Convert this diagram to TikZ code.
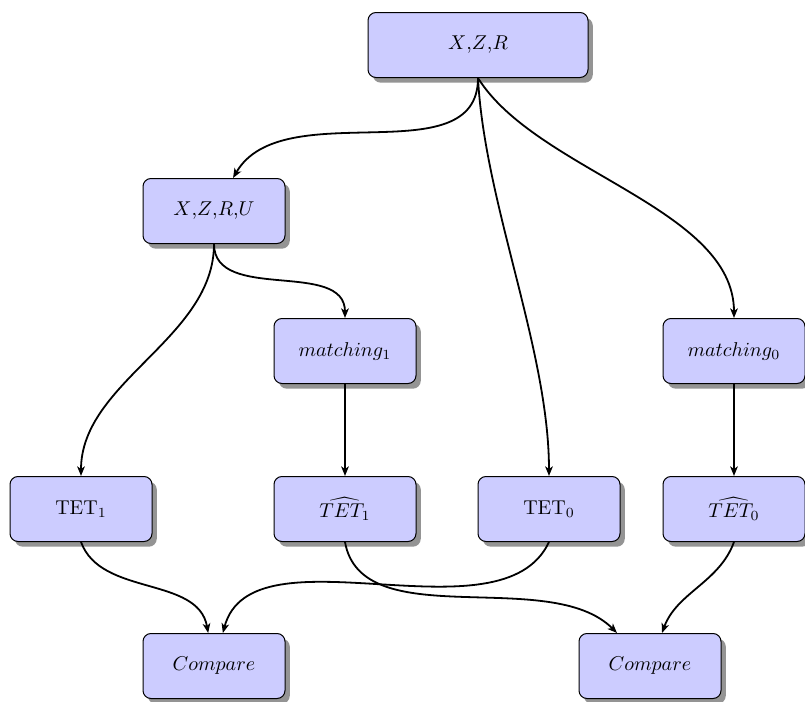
\documentclass[tikz,border=0pt]{standalone}
\usetikzlibrary{arrows.meta,shadows}

\tikzset{
  box/.style={draw, line width=0.5pt, fill=blue!20, rounded corners=4pt,
    minimum width=71pt, minimum height=32.5pt,
    drop shadow={shadow xshift=2.4pt, shadow yshift=-2.6pt, fill=black!42, opacity=1}},
  wide/.style={minimum width=110pt},
  flow/.style={line width=0.9pt, -{Stealth[length=4.8pt,width=3.8pt,inset=1.3pt]}}
}

\begin{document}
\begin{tikzpicture}[x=0.5pt, y=-0.5pt]
  \useasboundingbox (0,0) rectangle (805,702);

  % top level
  \node[box, wide] (xzr)   at (478,45)  {$X$,$Z$,$R$};
  \node[box]       (xzru)  at (214,211) {$X$,$Z$,$R$,$U$};

  % matching step
  \node[box] (m1) at (345,351) {$matching_1$};
  \node[box] (m0) at (734,351) {$matching_0$};

  % estimates
  \node[box] (tet1)  at (81,509)  {TET$_1$};
  \node[box] (htet1) at (345,509) {$\widehat{TET_1}$};
  \node[box] (tet0)  at (549,509) {TET$_0$};
  \node[box] (htet0) at (734,509) {$\widehat{TET_0}$};

  % comparisons
  \node[box] (c1) at (214,666) {$Compare$};
  \node[box] (c2) at (650,666) {$Compare$};

  % connectors
  \draw[flow] (xzr.south) to[out=-90, in=60, looseness=0.95] (xzru);
  \draw[flow] (xzr.south) to[out=-87, in=90, looseness=0.8] (tet0.north);
  \draw[flow] (xzr.south) to[out=-58, in=90, looseness=0.8] (m0.north);

  \draw[flow] (xzru.south) to[out=-90, in=90, looseness=0.9] (tet1.north);
  \draw[flow] (xzru.south) to[out=-90, in=90, looseness=1.0] (m1.north);

  \draw[flow] (m1) -- (htet1);
  \draw[flow] (m0) -- (htet0);

  \draw[flow] (tet1.south)  to[out=-70, in=100, looseness=0.95] (c1);
  \draw[flow] (tet0.south)  to[out=-115, in=75, looseness=0.85] (c1);
  \draw[flow] (htet1.south) to[out=-80, in=135, looseness=0.85] (c2);
  \draw[flow] (htet0.south) to[out=-110, in=70, looseness=0.95] (c2);
\end{tikzpicture}
\end{document}
